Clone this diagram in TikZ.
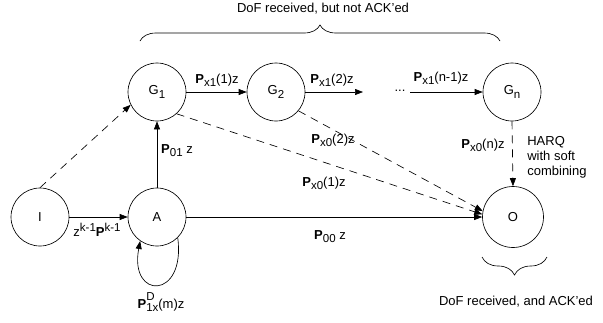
\documentclass[tikz,border=0pt]{standalone}
\usepackage{fontspec}
\setmainfont{Liberation Sans}
\usetikzlibrary{arrows.meta,decorations.pathreplacing}

\tikzset{
  state/.style={draw, circle, minimum size=58pt, inner sep=0pt},
  lab/.style={inner sep=1pt},
  tip/.style={-{Triangle[length=8pt,width=6pt]}},
  dsh/.style={dash pattern=on 8pt off 6pt}
}
\newcommand{\Pb}{\textbf{P}}
\newcommand{\sub}[1]{\raisebox{-0.45ex}{\fontsize{11.5}{12}\selectfont #1}}
\newcommand{\sups}[1]{\raisebox{0.7ex}{\fontsize{11.5}{12}\selectfont #1}}

\begin{document}
\begin{tikzpicture}[x=1pt,y=-1pt,line width=0.65pt,font=\fontsize{13}{15}\selectfont]
\useasboundingbox (0,0) rectangle (603,322);
% states
\node[state] (I) at (40,217) {I};
\node[state] (A) at (157,217) {A};
\node[state] (G1) at (157,92) {G\sub{1}};
\node[state] (G2) at (276,92) {G\sub{2}};
\node[state] (Gn) at (512,92) {G\sub{n}};
\node[state,minimum size=61pt] (O) at (513,217) {O};
\coordinate (g2end) at (363,92);
\coordinate (gnstart) at (410,92);
\node (dots) at (400,91) {...};

% transitions
\draw[tip] (I) -- (A);
\draw[tip,dsh] (I.north) -- (G1.206);
\draw[tip] (A) -- (G1);
\draw[tip] (A) -- (O);
\draw[tip] (G1) -- (G2);
\draw[tip] (G2) -- (g2end);
\draw[tip] (gnstart) -- (Gn);
\draw[tip,dsh] (G1.-48) -- (O.175);
\draw[tip,dsh] (G2.-40) -- (O.169);
\draw[tip,dsh] (Gn.south) -- (O.north);
\draw[tip] (A.-45) .. controls (186,300) and (129,300) .. (A.-125);

% labels
\node[lab] (l1) at (217,80) {\Pb\sub{x1}(1)z};
\node[lab] (l2) at (332,80) {\Pb\sub{x1}(2)z};
\node[lab] (l3) at (441,78) {\Pb\sub{x1}(n-1)z};
\node[lab] (l4) at (177,151) {\Pb\sub{01} z};
\node[lab] (l5) at (97,230) {z\sups{k-1}\Pb\sups{k-1}};
\node[lab] (l6) at (161,302) {\Pb\rlap{\raisebox{1.1ex}{\fontsize{11.5}{12}\selectfont D}}\sub{1x}(m)z};
\node[lab] (l7) at (330,237) {\Pb\sub{00} z};
\node[lab] (l8) at (333,140) {\Pb\sub{x0}(2)z};
\node[lab] (l9) at (324,183) {\Pb\sub{x0}(1)z};
\node[lab] (l10) at (483,145) {\Pb\sub{x0}(n)z};
\node[lab,anchor=west,align=left] (harq) at (526,157) {HARQ\\with soft\\combining};

% braces
\draw[decorate,decoration={brace,amplitude=16pt}] (140,41) -- (500,41);
\node (top) at (323,9) {DoF received, but not ACK'ed};
\draw[decorate,decoration={brace,amplitude=18pt}] (547,257) -- (482,257);
\node (bot) at (516,302) {DoF received, and ACK'ed};
\end{tikzpicture}
\end{document}
